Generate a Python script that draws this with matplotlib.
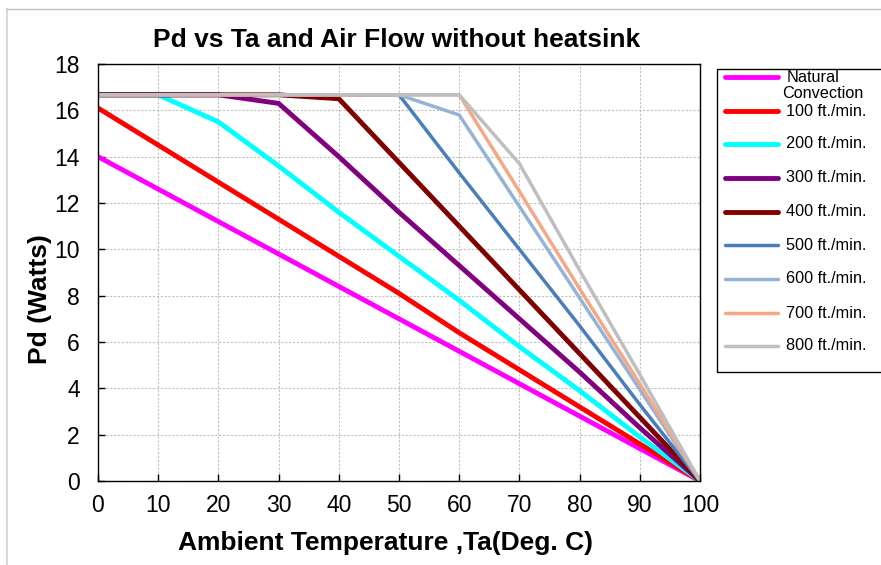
import matplotlib
matplotlib.use("Agg")
import matplotlib.pyplot as plt
from matplotlib.lines import Line2D
from matplotlib.patches import Rectangle

plt.rcParams['font.family'] = ['Liberation Sans', 'DejaVu Sans']

ta = [0, 10, 20, 30, 40, 50, 60, 70, 80, 90, 100]
series_names = ["Natural\nConvection", "100 ft./min.", "200 ft./min.", "300 ft./min.",
                "400 ft./min.", "500 ft./min.", "600 ft./min.", "700 ft./min.", "800 ft./min."]
natural = [14.0, 12.6, 11.2, 9.8, 8.4, 7.0, 5.6, 4.2, 2.8, 1.4, 0.0]
f100 = [16.1, 14.5, 12.9, 11.3, 9.7, 8.1, 6.4, 4.8, 3.2, 1.6, 0.0]
f200 = [16.67, 16.67, 15.5, 13.6, 11.6, 9.7, 7.8, 5.8, 3.9, 1.9, 0.0]
f300 = [16.67, 16.67, 16.67, 16.3, 14.0, 11.6, 9.3, 7.0, 4.7, 2.3, 0.0]
f400 = [16.67, 16.67, 16.67, 16.67, 16.5, 13.75, 11.0, 8.25, 5.5, 2.75, 0.0]
f500 = [16.67, 16.67, 16.67, 16.67, 16.67, 16.67, 13.3, 10.0, 6.7, 3.3, 0.0]
f600 = [16.67, 16.67, 16.67, 16.67, 16.67, 16.67, 15.8, 11.85, 7.9, 3.95, 0.0]
f700 = [16.67, 16.67, 16.67, 16.67, 16.67, 16.67, 16.67, 12.5, 8.3, 4.2, 0.0]
f800 = [16.67, 16.67, 16.67, 16.67, 16.67, 16.67, 16.67, 13.7, 9.1, 4.6, 0.0]
series = [natural, f100, f200, f300, f400, f500, f600, f700, f800]
colors = ["#FF00FF", "#FF0000", "#00FFFF", "#800080", "#800000",
          "#4A7EBB", "#95B3D7", "#F4A886", "#BFBFBF"]
widths = [3.5, 3.5, 3.5, 3.5, 3.5, 2.5, 2.5, 2.5, 2.5]

W, H = 881, 565
fig = plt.figure(figsize=(W / 100, H / 100), dpi=100)

def px(x, y):
    return x / W, 1 - y / H

# outer frame (cropped)
fig.add_artist(Line2D([px(7, 0)[0], px(7, 0)[0]], [px(0, 9)[1], 0], color="#D9D9D9", lw=1.5))
fig.add_artist(Line2D([px(7, 0)[0], 1], [px(0, 9)[1], px(0, 9)[1]], color="#BFBFBF", lw=1.0))

l, t, r, b = 98, 64, 700, 481
ax = fig.add_axes([l / W, 1 - b / H, (r - l) / W, (b - t) / H])
for ys, c, w in zip(series, colors, widths):
    ax.plot(ta, ys, color=c, lw=w, solid_joinstyle='miter', solid_capstyle='butt')

ax.set_xlim(0, 100)
ax.set_ylim(0, 18)
ax.set_xticks(range(0, 101, 10))
ax.set_yticks(range(0, 19, 2))
ax.grid(True, color="#BFBFBF", linestyle=(0, (2, 1.5)), lw=0.8)
ax.set_axisbelow(True)
ax.tick_params(direction='in', length=5, width=1.0, labelsize=16.5, pad=9, colors='black')
ax.tick_params(axis='y', pad=13)
for s in ax.spines.values():
    s.set_linewidth(1.0)
    s.set_color('black')

fig.text(px(397, 0)[0], px(0, 40)[1], "Pd vs Ta and Air Flow without heatsink",
         ha='center', va='center', fontsize=19, fontweight='bold')
fig.text(px(386, 0)[0], px(0, 543)[1], "Ambient Temperature ,Ta(Deg. C)",
         ha='center', va='center', fontsize=19, fontweight='bold')
fig.text(px(40, 0)[0], px(0, 299)[1], "Pd (Watts)", ha='center', va='center',
         rotation=90, fontsize=19, fontweight='bold')

# legend box (cropped at right)
fig.add_artist(Rectangle(px(717, 372), (W + 5 - 717) / W, (372 - 69) / H,
                         fill=False, edgecolor='black', lw=1.0, transform=fig.transFigure))
row_y = [77, 111, 144, 178, 212, 245, 279, 313, 346]
for i, (name, c, w, yy) in enumerate(zip(series_names, colors, widths, row_y)):
    y0 = px(0, yy)[1]
    fig.add_artist(Line2D([px(725, 0)[0], px(778, 0)[0]], [y0, y0], color=c, lw=w,
                          solid_capstyle='round'))
    if i == 0:
        first, second = name.split("\n")
        fig.text(px(787, 0)[0], px(0, 77)[1], first, ha='left', va='center', fontsize=11.7)
        fig.text(px(782, 0)[0], px(0, 94)[1], second, ha='left', va='center', fontsize=11.7)
    else:
        fig.text(px(786, 0)[0], y0, name, ha='left', va='center', fontsize=11.7)

fig.savefig("out.png", dpi=100)
